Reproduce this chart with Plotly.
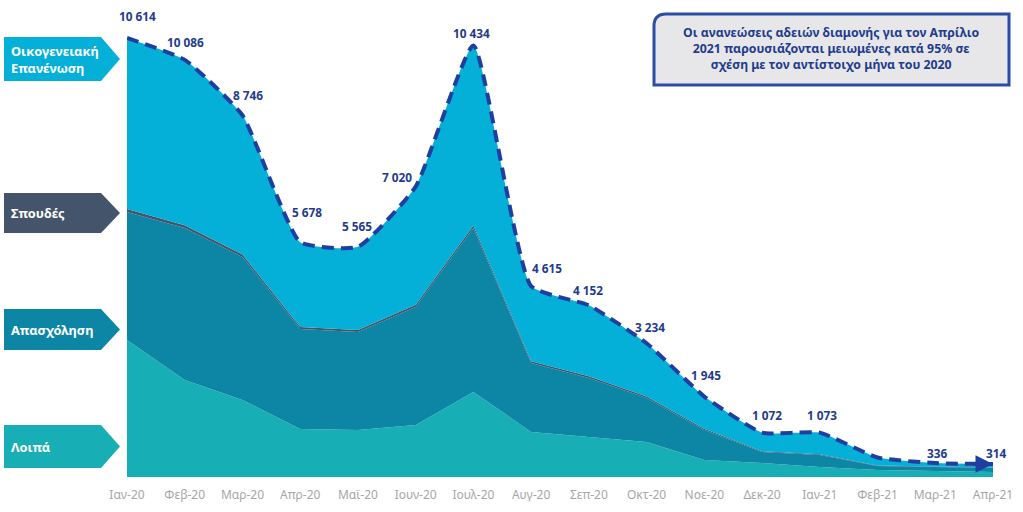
import plotly.graph_objects as go

MONTHS = ["Ιαν-20", "Φεβ-20", "Μαρ-20", "Απρ-20", "Μαϊ-20", "Ιουν-20", "Ιουλ-20", "Αυγ-20",
          "Σεπ-20", "Οκτ-20", "Νοε-20", "Δεκ-20", "Ιαν-21", "Φεβ-21", "Μαρ-21", "Απρ-21"]
LOIPA = [3312, 2345, 1862, 1161, 1136, 1257, 2055, 1088, 967, 846, 411, 338, 242, 169, 145, 121]
APASXOLISI = [3095, 3675, 3457, 2417, 2370, 2853, 3965, 1668, 1427, 1064, 725, 266, 290, 97, 97, 97]
SPOUDES = [70, 65, 60, 50, 50, 55, 60, 40, 40, 35, 30, 20, 20, 10, 10, 10]
OIKOG = [4137, 4001, 3367, 2050, 2009, 2855, 4354, 1819, 1718, 1289, 779, 448, 521, 194, 84, 86]
TOTAL = [10614, 10086, 8746, 5678, 5565, 7020, 10434, 4615, 4152, 3234, 1945, 1072, 1073, 470, 336, 314]
TOTAL_LABELS = ["10 614", "10 086", "8 746", "5 678", "5 565", "7 020", "10 434", "4 615",
                "4 152", "3 234", "1 945", "1 072", "1 073", "", "336", "314"]
NOTE = "Οι ανανεώσεις αδειών διαμονής για τον Απρίλιο<br>2021 παρουσιάζονται μειωμένες κατά 95% σε<br>σχέση με τον αντίστοιχο μήνα του 2020"

# styling
C_LOIPA = "#17AEB5"
C_APAS = "#0D86A5"
C_SPOUD = "#44546A"
C_OIKOG = "#04AFD8"
C_DASH = "#1E3FA0"
C_TEXT = "#1F3C8C"
FONT = "Noto Sans"
LABEL_SHIFT = [(10, 22), (1, 18), (6, 20), (7, 30), (-1, 21), (-19, 10), (-2, 12), (16, 18),
               (-1, 15), (3, 16), (2, 22), (5, 18), (2, 18), (0, 0), (2, 10), (3, 11)]
SMOOTH = 0.45

W, H = 1023, 512
ML, MR, MT, MB = 127, 30, 20, 35
PW, PH = W - ML - MR, H - MT - MB
PX_PER_UNIT = 0.04136
YMAX = PH / PX_PER_UNIT

x = list(range(len(MONTHS)))
fig = go.Figure()
for name, vals, col in [("Λοιπά", LOIPA, C_LOIPA), ("Απασχόληση", APASXOLISI, C_APAS),
                        ("Σπουδές", SPOUDES, C_SPOUD)]:
    fig.add_trace(go.Scatter(x=x, y=vals, name=name, stackgroup="s", mode="lines",
                             line=dict(width=0, color=col), fillcolor=col, hoverinfo="skip"))
fig.add_trace(go.Scatter(x=x, y=OIKOG, name="Οικογενειακή Επανένωση", stackgroup="s", mode="lines",
                         line=dict(width=0, color=C_OIKOG, shape="spline", smoothing=SMOOTH),
                         fillcolor=C_OIKOG, hoverinfo="skip"))
fig.add_trace(go.Scatter(x=x, y=TOTAL, mode="lines",
                         line=dict(color=C_DASH, width=4, dash="12px,7px", shape="spline", smoothing=SMOOTH),
                         hoverinfo="skip"))

# end arrow
fig.add_annotation(x=x[-1], y=TOTAL[-1], ax=-22, ay=0, axref="pixel", ayref="pixel",
                   showarrow=True, arrowhead=2, arrowsize=1, arrowwidth=3.5, arrowcolor=C_DASH, text="")

# data labels
for i, (t, v) in enumerate(zip(TOTAL_LABELS, TOTAL)):
    if not t:
        continue
    dx, dy = LABEL_SHIFT[i]
    fig.add_annotation(x=x[i], y=v, text=f"<b>{t}</b>", showarrow=False, xshift=dx, yshift=dy,
                       xanchor="center", yanchor="middle",
                       font=dict(family=FONT, size=11.8, color=C_TEXT))

def px2paper(px, py):
    return (px - ML) / PW, (H - MB - py) / PH

# left pentagon labels
boxes = [("Οικογενειακή<br>Επανένωση", C_OIKOG, 37, 81),
         ("Σπουδές", C_SPOUD, 193, 233),
         ("Απασχόληση", C_APAS, 309, 350),
         ("Λοιπά", C_LOIPA, 425, 468)]
for text, col, y0, y1 in boxes:
    pts = [(4, y0), (101, y0), (120, (y0 + y1) / 2), (101, y1), (4, y1)]
    pp = [px2paper(a, b) for a, b in pts]
    path = "M " + " L ".join(f"{a:.5f},{b:.5f}" for a, b in pp) + " Z"
    fig.add_shape(type="path", path=path, xref="paper", yref="paper", fillcolor=col,
                  line=dict(width=0), layer="above")
    tx, ty = px2paper(9, (y0 + y1) / 2)
    fig.add_annotation(x=tx, y=ty, xref="paper", yref="paper", xanchor="left", yanchor="middle",
                       text=f"<b>{text}</b>", showarrow=False, align="left",
                       font=dict(family=FONT, size=12.8, color="white"))

# note box (rounded)
bx0, by0, bx1, by1 = 654, 14, 1009, 85
r = 12
p = [px2paper(bx0 + r, by0), px2paper(bx1, by0), px2paper(bx1, by1), px2paper(bx0, by1),
     px2paper(bx0, by0 + r)]
c = px2paper(bx0, by0)
path = (f"M {p[0][0]:.5f},{p[0][1]:.5f} L {p[1][0]:.5f},{p[1][1]:.5f} L {p[2][0]:.5f},{p[2][1]:.5f} "
        f"L {p[3][0]:.5f},{p[3][1]:.5f} L {p[4][0]:.5f},{p[4][1]:.5f} Q {c[0]:.5f},{c[1]:.5f} {p[0][0]:.5f},{p[0][1]:.5f} Z")
fig.add_shape(type="path", path=path, xref="paper", yref="paper", fillcolor="#E7E7E9",
              line=dict(color="#2C4DA6", width=3), layer="above")
nx, ny = px2paper((bx0 + bx1) / 2, 48.5)
fig.add_annotation(x=nx, y=ny, xref="paper", yref="paper", text=f"<b>{NOTE}</b>", showarrow=False,
                   xanchor="center", yanchor="middle",
                   align="center", font=dict(family=FONT, size=12.3, color=C_TEXT))

fig.update_layout(
    width=W, height=H, margin=dict(l=ML, r=MR, t=MT, b=MB, autoexpand=False),
    paper_bgcolor="white", plot_bgcolor="white", showlegend=False,
    xaxis=dict(range=[0, len(MONTHS) - 1], tickvals=x, ticktext=MONTHS, showgrid=False,
               zeroline=False, showline=False, ticks="", ticklabelstandoff=9, automargin=False,
               tickfont=dict(family=FONT, size=12, color="#A6A6A6")),
    yaxis=dict(range=[0, YMAX], visible=False, automargin=False),
)
fig.write_html("out.html", config={"displayModeBar": False},
               post_script="document.body.style.margin='0px';")
